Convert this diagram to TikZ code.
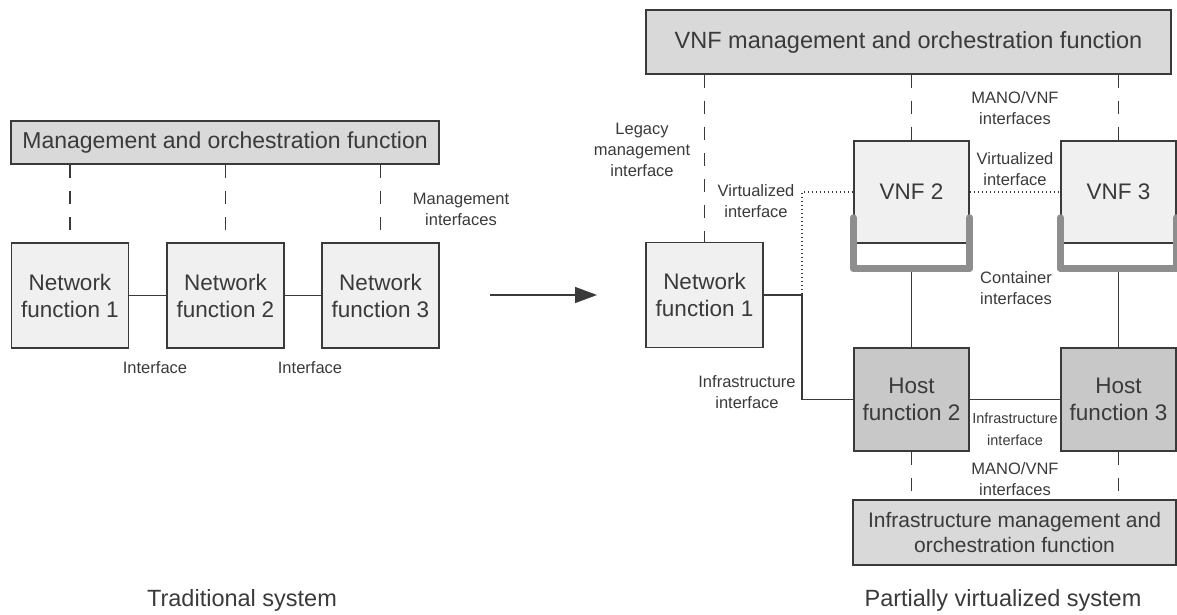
\documentclass[tikz,border=0pt]{standalone}
\usepackage{fontspec}
\setmainfont{Liberation Sans}
\usetikzlibrary{arrows.meta}
\definecolor{ink}{HTML}{3A3A3A}
\definecolor{lightbox}{HTML}{F0F0F0}
\definecolor{mgfill}{HTML}{D9D9D9}
\definecolor{hostfill}{HTML}{C8C8C8}
\definecolor{ctrgray}{HTML}{8E8E8E}

\begin{document}
\begin{tikzpicture}[
	  x=1pt, y=-1pt,
	  every node/.style={text=ink},
	  fbox/.style={draw=ink, line width=1.5pt, fill=lightbox, align=center, inner sep=0pt,
	    font=\fontsize{22.5}{27}\selectfont},
	  nbox/.style={fbox, minimum width=117pt, minimum height=105pt},
	  vbox/.style={fbox, minimum width=115pt, minimum height=102pt},
	  hbox/.style={fbox, fill=hostfill, minimum width=115pt, minimum height=103pt},
	  mgbox/.style={fbox, fill=mgfill, font=\fontsize{23}{28}\selectfont},
	  lbl/.style={align=center, font=\fontsize{16.5}{21}\selectfont},
	  captxt/.style={font=\fontsize{23.5}{28}\selectfont},
	  link/.style={draw=ink, line width=1.5pt},
	  mgline/.style={draw=ink, line width=1.6pt, dash pattern=on 13pt off 13pt},
	  virt/.style={draw=ink, line width=1.5pt, dash pattern=on 1.6pt off 2.4pt},
	  ctr/.style={draw=ctrgray, line width=7pt, line cap=round, line join=round},
	]
	\useasboundingbox (0,0) rectangle (1177,615);

	% traditional system
	\node [mgbox, minimum width=428pt, minimum height=43pt] (mo) at (225,142.5) {Management and orchestration function};
	\node [nbox] (nf1) at (70,295.5) {Network\\function 1};
	\node [nbox] (nf2) at (225.5,295.5) {Network\\function 2};
	\node [nbox] (nf3) at (380.5,295.5) {Network\\function 3};
	\draw [link] (nf1) -- (nf2);
	\draw [link] (nf2) -- (nf3);
	\foreach \n in {nf1,nf2,nf3}
	  \draw [mgline] (\n.north |- mo.south) -- (\n.north);

	\node [lbl] (if1) at (155,368) {Interface};
	\node [lbl] (if2) at (310,368) {Interface};
	\node [lbl] (mgif) at (461,209) {Management\\interfaces};
	\node [captxt] (trad) at (242,600) {Traditional system};

	\coordinate (arrS) at (490,295);
	\coordinate (arrE) at (597,295);
	\draw [link, -{Triangle[length=22pt,width=16pt]}] (arrS) -- (arrE);

	% partially virtualized system
	\node [mgbox, minimum width=525pt, minimum height=64pt, font=\fontsize{23.5}{28}\selectfont] (vmo) at (908.5,42) {VNF management and orchestration function};
	\node [nbox] (rnf1) at (704.5,295) {Network\\function 1};
	\node [vbox] (vnf2) at (911.5,192) {VNF 2};
	\node [vbox] (vnf3) at (1118.5,192) {VNF 3};
	\node [hbox] (host2) at (911.5,399.5) {Host\\function 2};
	\node [hbox] (host3) at (1118.5,399.5) {Host\\function 3};
	\node [mgbox, minimum width=323pt, minimum height=65pt, font=\fontsize{21}{25}\selectfont] (imo) at (1014.5,532.5) {Infrastructure management and\\orchestration function};

	% containers under the VNFs
	\foreach \v in {vnf2,vnf3}
	  \draw [ctr] ([yshift=26pt]\v.south west) -- ([yshift=-25pt]\v.south west)
	    -- ([yshift=-25pt]\v.south east) -- ([yshift=26pt]\v.south east);
	\coordinate (c2) at ([yshift=-28pt]vnf2.south);
	\coordinate (c3) at ([yshift=-28pt]vnf3.south);
	\draw [link] (c2) -- (host2);
	\draw [link] (c3) -- (host3);

	\foreach \v in {rnf1,vnf2,vnf3}
	  \draw [mgline] (\v.north |- vmo.south) -- (\v.north);
	\coordinate (jn) at (802,295);
	\draw [link] (rnf1.east) -- (jn) |- (host2.west);
	\draw [virt] (vnf2.west) -| (jn);
	\draw [virt] (vnf2) -- (vnf3);
	\draw [link] (host2) -- (host3);
	\foreach \h in {host2,host3}
	  \draw [mgline] (\h.south) -- (\h.south |- imo.north);

	\node [lbl] (legif) at (642,150) {Legacy\\management\\interface};
	\node [lbl] (vif1) at (756,201.5) {Virtualized\\interface};
	\node [lbl] (mvif1) at (1015,108) {MANO/VNF\\interfaces};
	\node [lbl] (vif2) at (1015,169) {Virtualized\\interface};
	\node [lbl] (ctrif) at (1016,288) {Container\\interfaces};
	\node [lbl] (infif1) at (747,392) {Infrastructure\\interface};
	\node [lbl, font=\fontsize{14.5}{22}\selectfont] (infif2) at (1015,429) {Infrastructure\\interface};
	\node [lbl] (mvif2) at (1015,479) {MANO/VNF\\interfaces};
	\node [captxt] (pvs) at (1003,600) {Partially virtualized system};
	\end{tikzpicture}
\end{document}
